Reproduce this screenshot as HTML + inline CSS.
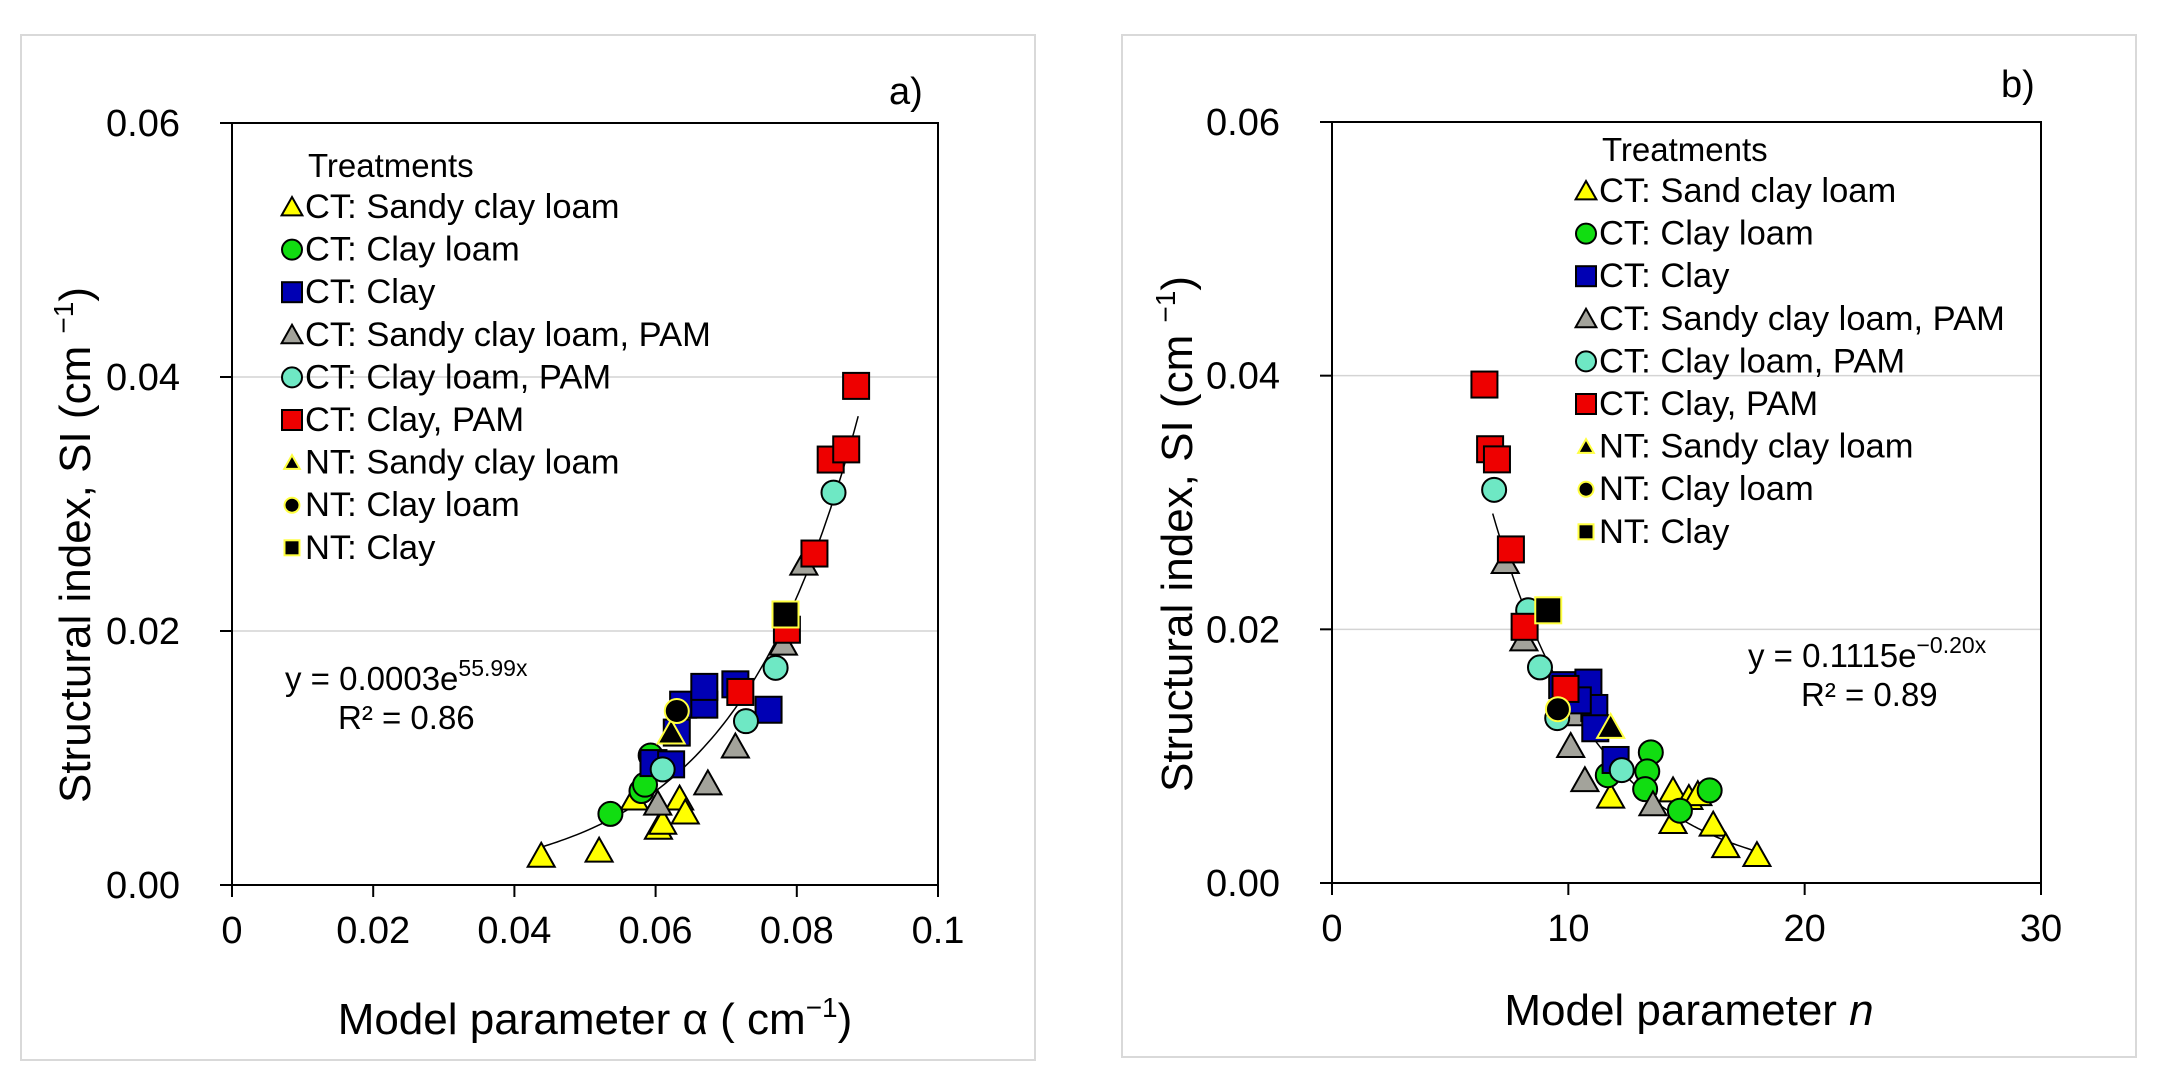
<!DOCTYPE html>
<html><head><meta charset="utf-8"><style>
html,body{margin:0;padding:0;background:#fff;}
svg{display:block;font-family:"Liberation Sans",Arial,sans-serif;}
</style></head><body>
<svg id="fig" width="2164" height="1084" viewBox="0 0 2164 1084" xmlns="http://www.w3.org/2000/svg">
<rect x="21" y="35" width="1014" height="1025" fill="#fff" stroke="#d9d9d9" stroke-width="2"/>
<rect x="1122" y="35" width="1014" height="1022" fill="#fff" stroke="#d9d9d9" stroke-width="2"/>
</svg>
<script>
// Panel a data (alpha, SI)
const aCTsclX=[0.0438,0.052,0.0604,0.061,0.0634,0.0642,0.057];
const aCTsclY=[0.0023,0.0027,0.0045,0.0049,0.0068,0.0057,0.0068];
const aCTclX=[0.0536,0.058,0.0585,0.0593];
const aCTclY=[0.0056,0.0074,0.0079,0.0102];
const aCTcX=[0.0597,0.0622,0.0639,0.0669,0.0669,0.0713,0.076,0.063];
const aCTcY=[0.0096,0.0095,0.0142,0.0142,0.0156,0.0158,0.0138,0.012];
const aPsclX=[0.0603,0.0674,0.0713,0.0781,0.081];
const aPsclY=[0.0064,0.008,0.0109,0.019,0.0253];
const aPclX=[0.061,0.0728,0.077,0.0852];
const aPclY=[0.0091,0.0129,0.0171,0.0309];
const aPcX=[0.072,0.0786,0.0825,0.0848,0.087,0.0884];
const aPcY=[0.0152,0.0201,0.0261,0.0335,0.0343,0.0393];
const aNTsclX=[0.0622], aNTsclY=[0.012];
const aNTclX=[0.063], aNTclY=[0.0137];
const aNTcX=[0.0784], aNTcY=[0.0213];
const aFit=[0.000257,56.0,0.0438,0.0887];
// Panel b data (n, SI)
const bCTsclX=[11.79,14.43,15.1,15.48,14.43,16.13,16.66,17.98];
const bCTsclY=[0.0068,0.0073,0.0067,0.007,0.0048,0.0046,0.0029,0.0022];
const bCTclX=[13.49,13.34,13.25,15.98,14.72,11.67];
const bCTclY=[0.0103,0.0088,0.0074,0.0073,0.0057,0.0085];
const bCTcX=[9.74,10.85,11.1,11.14,12.0,10.4];
const bCTcY=[0.0156,0.0158,0.0138,0.0122,0.0097,0.0144];
const bPsclX=[7.33,8.12,10.1,10.7,13.58,10.26];
const bPsclY=[0.0253,0.0192,0.0108,0.0081,0.0062,0.0133];
const bPclX=[6.86,8.3,8.8,9.53,12.26];
const bPclY=[0.031,0.0215,0.017,0.013,0.0089];
const bPcX=[6.45,6.69,6.98,7.57,8.15,9.88];
const bPcY=[0.0393,0.0342,0.0334,0.0263,0.0202,0.0153];
const bNTsclX=[11.79], bNTsclY=[0.0123];
const bNTclX=[9.56], bNTclY=[0.0137];
const bNTcX=[9.15], bNTcY=[0.0215];
const bFit=[0.13,-0.22,6.8,18.0];
const yTicks=["0.00","0.02","0.04","0.06"];
const yTickVals=[0,0.02,0.04,0.06];
const aXTicks=["0","0.02","0.04","0.06","0.08","0.1"];
const aXTickVals=[0,0.02,0.04,0.06,0.08,0.1];
const bXTicks=["0","10","20","30"];
const bXTickVals=[0,10,20,30];

const NS="http://www.w3.org/2000/svg";
const svg=document.getElementById('fig');
function mk(tag,attrs,parent){const e=document.createElementNS(NS,tag);for(const k in attrs)e.setAttribute(k,attrs[k]);(parent||svg).appendChild(e);return e;}
function txt(x,y,s,size,anchor,parent){const t=mk('text',{x:x,y:y,'font-size':size,'text-anchor':anchor||'start',fill:'#000'},parent);t.textContent=s;return t;}

const STY={
 ctscl:{shape:'tri',fill:'#ffff00',stroke:'#000'},
 ctcl:{shape:'cir',fill:'#11dd11',stroke:'#000'},
 ctc:{shape:'sq',fill:'#0000b4',stroke:'#000'},
 pscl:{shape:'tri',fill:'#a3a39b',stroke:'#000'},
 pcl:{shape:'cir',fill:'#6ee8c4',stroke:'#000'},
 pc:{shape:'sq',fill:'#ee0000',stroke:'#000'},
 ntscl:{shape:'tri',fill:'#000',stroke:'#ffff40'},
 ntcl:{shape:'cir',fill:'#000',stroke:'#ffff40'},
 ntc:{shape:'sq',fill:'#000',stroke:'#ffff40'}
};
function marker(g,cx,cy,st,sz){
 const s=sz;let e;
 if(st.shape==='sq') e=mk('rect',{x:cx-s/2,y:cy-s/2,width:s,height:s,fill:st.fill,stroke:st.stroke,'stroke-width':2},g);
 else if(st.shape==='cir') e=mk('circle',{cx:cx,cy:cy,r:s/2,fill:st.fill,stroke:st.stroke,'stroke-width':2},g);
 else e=mk('polygon',{points:`${cx},${cy-s*0.5} ${cx+s*0.52},${cy+s*0.42} ${cx-s*0.52},${cy+s*0.42}`,fill:st.fill,stroke:st.stroke,'stroke-width':2},g);
 return e;
}

function panel(P){
 const g=mk('g',{});
 
 
 const X=v=>P.x0+(v-P.xmin)/(P.xmax-P.xmin)*(P.x1-P.x0);
 const Y=v=>P.y0-(v/0.06)*(P.y0-P.y1);
 [0.02,0.04].forEach(v=>{const l=mk('line',{x1:P.x0,x2:P.x1,y1:Y(v),y2:Y(v),stroke:'#d4d4d4','stroke-width':1.5},g);
  
  });
 const box=mk('rect',{x:P.x0,y:P.y1,width:P.x1-P.x0,height:P.y0-P.y1,fill:'none',stroke:'#000','stroke-width':2},g);
 
 
 yTickVals.forEach((v,i)=>{mk('line',{x1:P.x0-12,x2:P.x0,y1:Y(v),y2:Y(v),stroke:'#000','stroke-width':2},g);
  const t=txt(P.x0-52,Y(v)+13,yTicks[i],38,'end',g);
  
  });
 P.xt.forEach((v,i)=>{mk('line',{x1:X(v),x2:X(v),y1:P.y0,y2:P.y0+12,stroke:'#000','stroke-width':2},g);
  const t=txt(X(v),P.y0+58,P.xl[i],38,'middle',g);
  
  });
 const f=P.fit;let d='';
 for(let i=0;i<=80;i++){const xv=f[2]+(f[3]-f[2])*i/80;const yv=f[0]*Math.exp(f[1]*xv);d+=(i?'L':'M')+X(xv).toFixed(1)+','+Y(yv).toFixed(1);}
 const fc=mk('path',{d:d,fill:'none',stroke:'#000','stroke-width':1.5},g);
 
 
 P.series.forEach(s=>{
  const sg=mk('g',{},g);
  
  
  s.xs.forEach((xv,i)=>{
   const sz=STY[s.key].shape==='cir'?24:26;
   const m=marker(sg,X(xv),Y(s.ys[i]),STY[s.key],sz);
   
   
  });
 });
 const lg=mk('g',{},g);
 
 
 const th=txt(P.lx+3,P.ly,'Treatments',33,'start',lg);
 
 
 P.legend.forEach((e,i)=>{
  const by=P.ly+41+i*42.6;
  const st=STY[e[0]];
  const sz=e[0].startsWith('nt')?15:20;
  const m=marker(lg,P.lx-13,by-11,st,sz);
  
  
  const t=txt(P.lx,by,e[1],34.5,'start',lg);
  
  
 });
 const eq=mk('text',{x:P.ex,y:P.ey,'font-size':33,fill:'#000'},g);
 
 
 eq.appendChild(document.createTextNode(P.eq1));
 const sup=mk('tspan',{'font-size':23,dy:-14},eq);sup.textContent=P.eqsup;
 const r2=txt(P.rx,P.ry,'R² = '+P.r2,33,'start',g);
 
 
 const lab=txt(P.labx,P.laby,P.lab,38,'start',g);
 
 
 const yt=mk('text',{x:0,y:0,'font-size':44,'text-anchor':'middle',transform:`translate(${P.ytx},${P.yty}) rotate(-90)`,fill:'#000'},g);
 
 
 yt.appendChild(document.createTextNode('Structural index,  SI (cm '));
 const ys=mk('tspan',{'font-size':28,dy:-17},yt);ys.textContent='−1';
 const ye=mk('tspan',{dy:17},yt);ye.textContent=')';
 const xt=mk('text',{x:P.xtx,y:P.xty,'font-size':44,'text-anchor':'middle',fill:'#000'},g);
 
 
 P.xtitle(xt);
}

panel({id:'panel-a',x0:232,x1:938,y0:885,y1:123,xmin:0,xmax:0.1,xt:aXTickVals,xl:aXTicks,fit:aFit,
 series:[{key:'ctscl',xs:aCTsclX,ys:aCTsclY},{key:'ctcl',xs:aCTclX,ys:aCTclY},{key:'pscl',xs:aPsclX,ys:aPsclY},{key:'ctc',xs:aCTcX,ys:aCTcY},{key:'pcl',xs:aPclX,ys:aPclY},{key:'pc',xs:aPcX,ys:aPcY},{key:'ntscl',xs:aNTsclX,ys:aNTsclY},{key:'ntcl',xs:aNTclX,ys:aNTclY},{key:'ntc',xs:aNTcX,ys:aNTcY}],
 legend:[['ctscl','CT: Sandy clay loam'],['ctcl','CT: Clay loam'],['ctc','CT: Clay'],['pscl','CT: Sandy clay loam, PAM'],['pcl','CT: Clay loam, PAM'],['pc','CT: Clay, PAM'],['ntscl','NT: Sandy clay loam'],['ntcl','NT: Clay loam'],['ntc','NT: Clay']],
 lx:305,ly:177,ex:285,ey:690,eq1:'y = 0.0003e',eqsup:'55.99x',rx:338,ry:729,r2:'0.86',lab:'a)',labx:889,laby:104,
 ytx:90,yty:545,xtx:595,xty:1034,
 xtitle:t=>{t.appendChild(document.createTextNode('Model parameter α ( cm'));const s=mk('tspan',{'font-size':28,dy:-17},t);s.textContent='−1';const e=mk('tspan',{dy:17},t);e.textContent=')';}
});
panel({id:'panel-b',x0:1332,x1:2041,y0:883,y1:122,xmin:0,xmax:30,xt:bXTickVals,xl:bXTicks,fit:bFit,
 series:[{key:'ctscl',xs:bCTsclX,ys:bCTsclY},{key:'ctcl',xs:bCTclX,ys:bCTclY},{key:'pscl',xs:bPsclX,ys:bPsclY},{key:'ctc',xs:bCTcX,ys:bCTcY},{key:'pcl',xs:bPclX,ys:bPclY},{key:'pc',xs:bPcX,ys:bPcY},{key:'ntscl',xs:bNTsclX,ys:bNTsclY},{key:'ntcl',xs:bNTclX,ys:bNTclY},{key:'ntc',xs:bNTcX,ys:bNTcY}],
 legend:[['ctscl','CT: Sand clay loam'],['ctcl','CT: Clay loam'],['ctc','CT: Clay'],['pscl','CT: Sandy clay loam, PAM'],['pcl','CT: Clay loam, PAM'],['pc','CT: Clay, PAM'],['ntscl','NT: Sandy clay loam'],['ntcl','NT: Clay loam'],['ntc','NT: Clay']],
 lx:1599,ly:161,ex:1748,ey:667,eq1:'y = 0.1115e',eqsup:'−0.20x',rx:1801,ry:706,r2:'0.89',lab:'b)',labx:2001,laby:97,
 ytx:1192,yty:534,xtx:1689,xty:1025,
 xtitle:t=>{t.appendChild(document.createTextNode('Model parameter '));const s=mk('tspan',{'font-style':'italic'},t);s.textContent='n';}
});
</script>
</body></html>
